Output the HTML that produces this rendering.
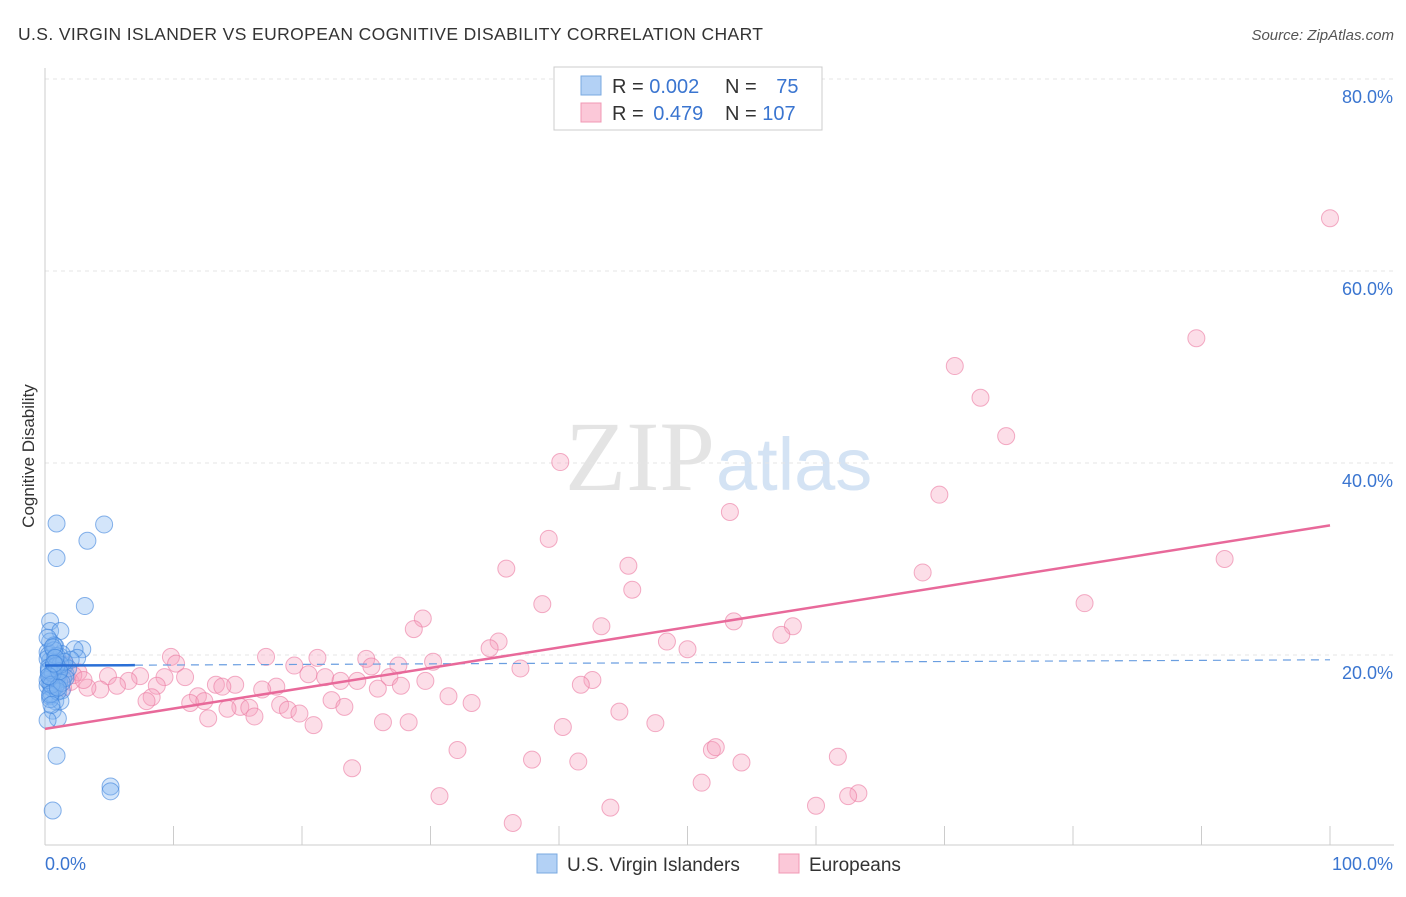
<!DOCTYPE html>
<html><head><meta charset="utf-8"><style>
body{margin:0;background:#fff;font-family:"Liberation Sans",sans-serif}
</style></head><body>
<svg id="c" width="1406" height="892" xmlns="http://www.w3.org/2000/svg">
<text x="18" y="40" font-size="17.5" fill="#333" textLength="745">U.S. VIRGIN ISLANDER VS EUROPEAN COGNITIVE DISABILITY CORRELATION CHART</text>
<text x="1394" y="40" font-size="15" fill="#555" font-style="italic" text-anchor="end">Source: ZipAtlas.com</text>
<text x="715" y="490" font-size="100" fill="#e4e4e4" font-family="Liberation Serif" text-anchor="end">ZIP</text>
<text x="716" y="490" font-size="74" fill="#d4e3f4">atlas</text>
<text transform="translate(34,456) rotate(-90)" font-size="17" fill="#333" text-anchor="middle">Cognitive Disability</text>
<g id="grid"></g><g id="marks"></g>
<g>
<rect x="554" y="67" width="268" height="63" fill="#fff" stroke="#ccc"/>
<rect x="581" y="76" width="20" height="19" fill="#b3d1f5" stroke="#7aa9e0"/>
<rect x="581" y="103" width="20" height="19" fill="#fbc8d8" stroke="#f098b4"/>
<text x="612" y="93" font-size="20" fill="#333">R = <tspan fill="#3a75d0">0.002</tspan></text>
<text x="725" y="93" font-size="20" fill="#333">N = <tspan fill="#3a75d0" dx="14">75</tspan></text>
<text x="612" y="120" font-size="20" fill="#333">R = <tspan fill="#3a75d0" dx="4">0.479</tspan></text>
<text x="725" y="120" font-size="20" fill="#333">N = <tspan fill="#3a75d0">107</tspan></text>
</g>
<g>
<rect x="537" y="854" width="20" height="19" fill="#b3d1f5" stroke="#7aa9e0"/>
<text x="567" y="871" font-size="19" fill="#333">U.S. Virgin Islanders</text>
<rect x="779" y="854" width="20" height="19" fill="#fbc8d8" stroke="#f098b4"/>
<text x="809" y="871" font-size="19" fill="#333">Europeans</text>
</g>
</svg>
<script>
const yTicks=[20,40,60,80];
const yTickLabels=["20.0%","40.0%","60.0%","80.0%"];
const xTicks=[0,10,20,30,40,50,60,70,80,90,100];
const blueX=[0.9,4.6,3.3,0.9,3.1,0.4,0.4,1.2,2.9,2.3,2.5,0.4,0.2,0.8,1.2,0.4,1.5,0.6,0.9,0.2,1.3,0.4,0.8,1.2,0.6,1.0,0.2,0.9,5.1,5.1,0.6,0.3,0.7,1.1,1.6,2.0,0.5,0.9,1.4,0.3,0.8,1.8,0.4,1.0,0.6,0.2,1.3,0.7,0.5,1.1,0.3,0.9,1.6,0.4,0.8,0.2,1.2,0.6,1.0,0.4,0.7,1.5,0.3,0.5,0.9,1.3,0.2,0.6,1.1,0.8,0.4,1.0,0.3,0.7,0.5];
const blueY=[33.7,33.6,31.9,30.1,25.1,23.5,22.5,22.5,20.6,20.6,19.7,21.4,20.3,20.9,19.8,19.4,18.9,18.3,17.3,16.8,16.3,15.7,15.2,15.2,14.2,13.4,13.2,9.5,6.3,5.8,3.8,20.0,19.0,18.5,18.0,19.5,17.8,18.8,17.5,18.2,19.2,18.6,17.0,17.9,16.5,19.6,20.1,21.0,16.0,17.2,18.7,19.9,17.6,15.4,16.7,17.4,19.0,18.1,16.2,17.7,20.5,19.3,18.4,16.9,18.9,17.1,21.8,20.8,18.3,19.7,15.9,16.6,17.8,19.1,14.8];
const pinkX=[100,89.6,70.8,72.8,74.8,40.1,69.6,53.3,39.2,91.8,45.4,35.9,68.3,45.7,38.7,80.9,29.4,28.7,43.3,53.6,58.2,57.3,35.3,48.4,34.6,50,9.8,17.2,21.2,25,30.2,10.2,19.4,25.4,27.5,37,20.5,9.3,10.9,21.8,26.8,7.4,4.9,6.5,23,24.3,29.6,42.6,41.7,8.7,13.3,14.8,13.8,18,16.9,25.9,27.7,5.6,4.3,3.3,31.4,11.9,8.3,7.9,11.3,12.4,22.3,33.2,18.3,15.2,15.9,14.2,18.9,23.3,19.8,16.3,12.7,44.7,26.3,28.3,20.9,40.3,47.5,32.1,51.9,52.2,37.9,41.5,54.2,61.7,23.9,51.1,30.7,63.3,62.5,44,60,36.4,1.2,0.8,1.6,2.0,2.6,1.4,1.0,2.2,3.0];
const pinkY=[65.5,53,50.1,46.8,42.8,40.1,36.7,34.9,32.1,30,29.3,29,28.6,26.8,25.3,25.4,23.8,22.7,23,23.5,23,22.1,21.4,21.4,20.7,20.6,19.8,19.8,19.7,19.6,19.3,19.1,18.9,18.8,18.9,18.6,18,17.7,17.7,17.7,17.7,17.8,17.8,17.3,17.3,17.3,17.3,17.4,16.9,16.8,16.9,16.9,16.7,16.7,16.4,16.5,16.8,16.8,16.4,16.6,15.7,15.7,15.6,15.2,15,15.2,15.3,15,14.8,14.6,14.5,14.4,14.3,14.6,13.9,13.6,13.4,14.1,13,13,12.7,12.5,12.9,10.1,10.1,10.4,9.1,8.9,8.8,9.4,8.2,6.7,5.3,5.6,5.3,4.1,4.3,2.5,18.5,17.6,19.0,17.2,18.2,16.6,18.8,17.9,17.4];
const blueTrend=[18.9,19.5];
const pinkTrend=[12.3,33.5];
const X=v=>45+v*12.85, Y=v=>847-v*9.6;
const NS="http://www.w3.org/2000/svg";
function mk(p,t,a){const e=document.createElementNS(NS,t);for(const k in a)e.setAttribute(k,a[k]);p.appendChild(e);return e;}
const g=document.getElementById('grid'),m=document.getElementById('marks');
yTicks.forEach((t,i)=>{
 const l=mk(g,'line',{x1:45,x2:1394,y1:Y(t),y2:Y(t),stroke:'#e6e6e6','stroke-dasharray':'4,4'});
 
 
 const tx=mk(g,'text',{x:1393,y:Y(t)+24,'font-size':18,fill:'#3a75d0','text-anchor':'end'});tx.textContent=yTickLabels[i];
 
 
});
const ax=mk(g,'line',{x1:45,x2:1394,y1:845,y2:845,stroke:'#ccc'});


const ay=mk(g,'line',{x1:45,x2:45,y1:68,y2:845,stroke:'#ccc'});


xTicks.forEach(t=>{const l=mk(g,'line',{x1:X(t),x2:X(t),y1:826,y2:845,stroke:'#ccc'});
 
 });
[["0.0%",45,'start'],["100.0%",1393,'end']].forEach(d=>{const t=mk(g,'text',{x:d[1],y:870,'font-size':18,fill:'#3a75d0','text-anchor':d[2]});t.textContent=d[0];
 
 });
pinkX.forEach((v,i)=>{const c=mk(m,'circle',{cx:X(v),cy:Y(pinkY[i]),r:8.5,fill:'rgba(247,160,188,0.35)',stroke:'rgba(235,120,160,0.6)','stroke-width':1});
 
 });
blueX.forEach((v,i)=>{const c=mk(m,'circle',{cx:X(v),cy:Y(blueY[i]),r:8.5,fill:'rgba(130,180,240,0.35)',stroke:'rgba(60,130,220,0.6)','stroke-width':1});
 
 });
const bt=v=>blueTrend[0]+(blueTrend[1]-blueTrend[0])*v/100;
const b1=mk(m,'line',{x1:X(0),x2:X(7),y1:Y(bt(0)),y2:Y(bt(7)),stroke:'#2a6fd6','stroke-width':2.5});


const b2=mk(m,'line',{x1:X(7),x2:X(100),y1:Y(bt(7)),y2:Y(bt(100)),stroke:'#6a9ee0','stroke-width':1.2,'stroke-dasharray':'8,6'});


const p=mk(m,'line',{x1:X(0),x2:X(100),y1:Y(pinkTrend[0]),y2:Y(pinkTrend[1]),stroke:'#e8699a','stroke-width':2.5});


</script>
</body></html>
